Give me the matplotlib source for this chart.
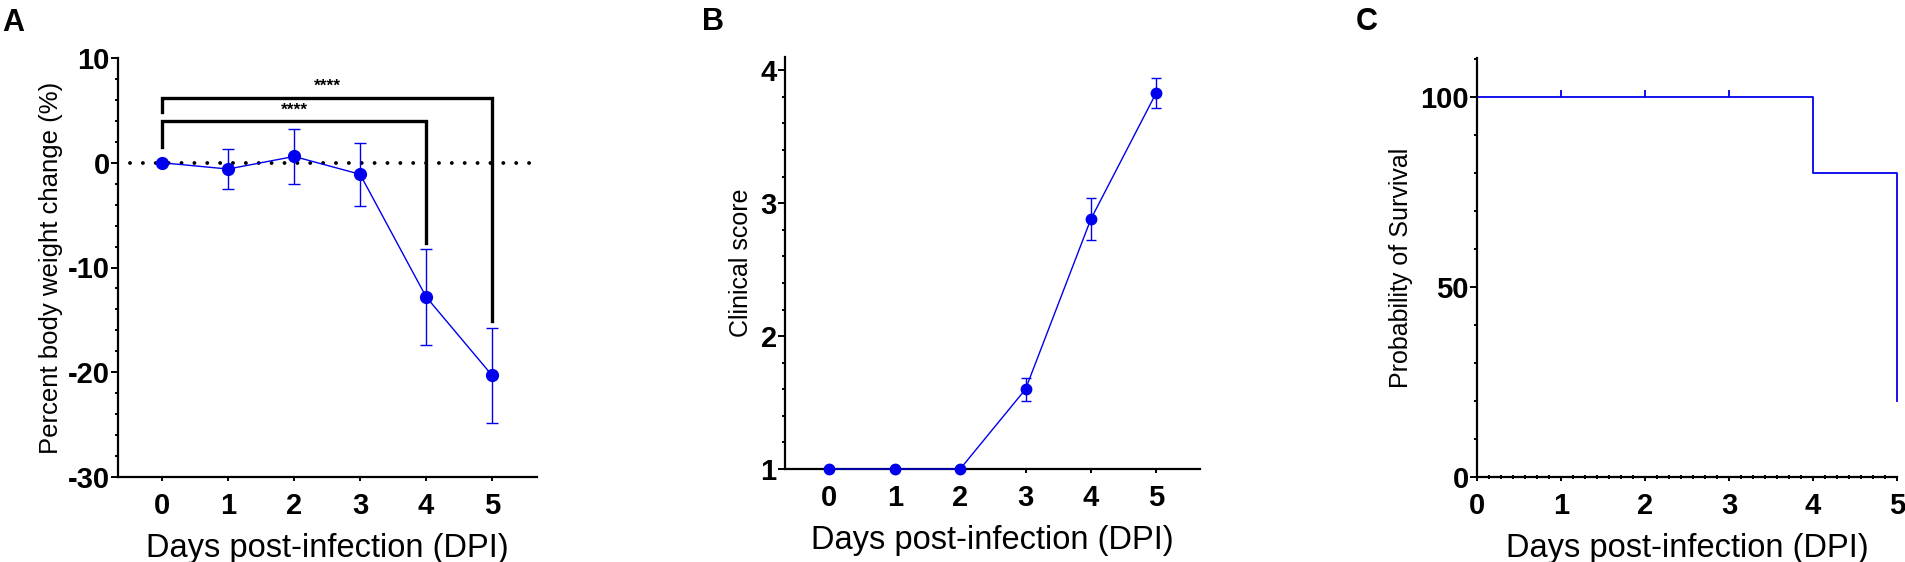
import matplotlib
matplotlib.use("Agg")
import matplotlib.pyplot as plt
from matplotlib.ticker import AutoMinorLocator

plt.rcParams['font.family'] = ['Liberation Sans', 'DejaVu Sans']
plt.rcParams['axes.unicode_minus'] = False

# --- data ---
days = [0, 1, 2, 3, 4, 5]

# A: percent body weight change, mean and error
weight = [0.0, -0.6, 0.6, -1.1, -12.8, -20.3]
weight_err = [0.0, 1.9, 2.6, 3.0, 4.6, 4.5]
# significance brackets: (start day, end day, bracket height, left leg bottom, right leg bottom)
brackets = [(0, 5, 6.2, 4.8, -15.1), (0, 4, 3.95, 1.55, -7.7)]
sig_label = '****'
baseline = 0

# B: clinical score
score = [1.0, 1.0, 1.0, 1.60, 2.88, 3.83]
score_err = [0.0, 0.0, 0.0, 0.085, 0.16, 0.11]

# C: survival
surv_days = [0, 4, 5]
surv_pct = [100, 80, 20]
censor_days = [1, 2, 3]
censor_pct = [100, 100, 100]

blue = '#0000ee'
W, H = 1905, 562
fig = plt.figure(figsize=(W / 100, H / 100), dpi=100)


def px_axes(left, right, top, bottom):
    return fig.add_axes([left / W, 1 - bottom / H, (right - left) / W, (bottom - top) / H])


def style(ax):
    for s in ['top', 'right']:
        ax.spines[s].set_visible(False)
    for s in ['left', 'bottom']:
        ax.spines[s].set_linewidth(1.6)
    ax.tick_params(which='major', width=1.4, labelsize=21)
    ax.tick_params(axis='y', which='major', length=5, pad=1)
    ax.tick_params(axis='y', which='minor', length=2.5, width=1.4)
    ax.tick_params(axis='x', which='major', length=3, pad=8)
    for lab in ax.get_xticklabels() + ax.get_yticklabels():
        lab.set_fontweight('bold')


# ---------- A ----------
ax1 = px_axes(118, 537, 58, 477)
ax1.hlines(baseline, days[0] - 0.48, days[-1] + 0.62, colors='black', linewidth=2.8,
           linestyles=(0, (0.01, 3.3)), capstyle='round', zorder=1)
ax1.errorbar(days, weight, yerr=weight_err, color=blue, lw=1, marker='o', markersize=8.5,
             elinewidth=1, capsize=4.3, capthick=1, zorder=3)
for x0, x1, yb, yl, yr in brackets:
    ax1.plot([x0, x0, x1, x1], [yl, yb, yb, yr], color='black', lw=2.4, solid_joinstyle='miter')
    ax1.text((x0 + x1) / 2, yb + 0.35, sig_label, ha='center', va='bottom',
             fontsize=12.5, fontweight='bold')
ax1.set_xlim(-0.667, 5.68)
ax1.set_ylim(-30, 10)
ax1.set_xticks(days)
ax1.set_yticks([-30, -20, -10, 0, 10])
ax1.yaxis.set_minor_locator(AutoMinorLocator(5))
style(ax1)
ax1.set_ylabel('Percent body weight change (%)', fontsize=18.5, labelpad=3)
ax1.set_xlabel('Days post-infection (DPI)', fontsize=23.5, labelpad=9)
fig.text(2 / W, 1 - 8 / H, 'A', fontsize=22, fontweight='bold', va='top', ha='left')

# ---------- B ----------
ax2 = px_axes(785, 1200, 57, 469)
ax2.errorbar(days, score, yerr=score_err, color=blue, lw=1, marker='o', markersize=7.5,
             elinewidth=1, capsize=3.6, capthick=1, zorder=3, clip_on=False)
ax2.set_xlim(-0.68, 5.67)
ax2.set_ylim(1, 4.1)
ax2.set_xticks(days)
ax2.set_yticks([1, 2, 3, 4])
ax2.yaxis.set_minor_locator(AutoMinorLocator(5))
style(ax2)
ax2.set_ylabel('Clinical score', fontsize=18, labelpad=5)
ax2.set_xlabel('Days post-infection (DPI)', fontsize=23.5, labelpad=9)
fig.text(702 / W, 1 - 7 / H, 'B', fontsize=22, fontweight='bold', va='top', ha='left')

# ---------- C ----------
ax3 = px_axes(1477, 1897, 58, 477)
ax3.step(surv_days, surv_pct, where='post', color=blue, lw=1.3, clip_on=False)
ax3.plot(censor_days, censor_pct, linestyle='none', marker=2, markersize=5,
         markeredgewidth=1.3, color=blue)
ax3.set_xlim(0, 5)
ax3.set_ylim(0, 110.3)
ax3.set_xticks(days)
ax3.set_yticks([0, 50, 100])
ax3.yaxis.set_minor_locator(AutoMinorLocator(5))
ax3.xaxis.set_minor_locator(AutoMinorLocator(7))
style(ax3)
ax3.tick_params(axis='x', which='minor', direction='inout', length=3, width=1.4)
ax3.set_ylabel('Probability of Survival', fontsize=18, labelpad=5)
ax3.set_xlabel('Days post-infection (DPI)', fontsize=23.5, labelpad=9)
fig.text(1356 / W, 1 - 7 / H, 'C', fontsize=22, fontweight='bold', va='top', ha='left')

fig.savefig('out.png', dpi=100)
